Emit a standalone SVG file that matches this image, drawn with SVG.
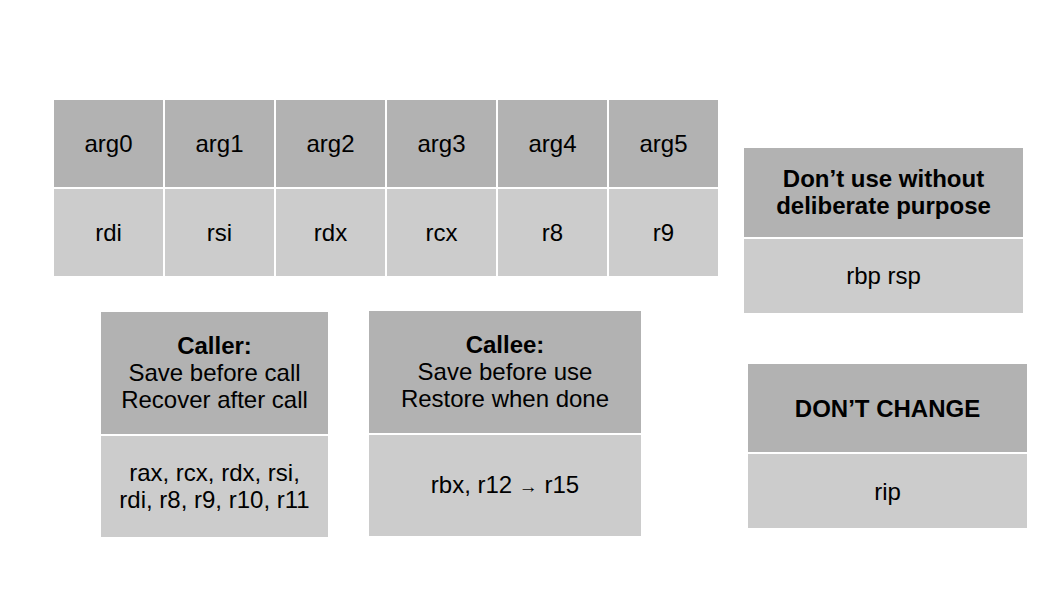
<svg xmlns="http://www.w3.org/2000/svg" width="1058" height="595" viewBox="0 0 1058 595">
<style>
.h{fill:#b2b2b2;stroke:#ffffff;stroke-width:2}
.b{fill:#cccccc;stroke:#ffffff;stroke-width:2}
text{font-family:"Liberation Sans",Arial,sans-serif;font-size:24px;fill:#000;text-anchor:middle}
.bd{font-weight:bold}
</style>
<rect width="1058" height="595" fill="#ffffff"/>
<g id="args">
<rect class="h" x="53" y="99" width="111" height="89"/>
<rect class="h" x="164" y="99" width="111" height="89"/>
<rect class="h" x="275" y="99" width="111" height="89"/>
<rect class="h" x="386" y="99" width="111" height="89"/>
<rect class="h" x="497" y="99" width="111" height="89"/>
<rect class="h" x="608" y="99" width="111" height="89"/>
<rect class="b" x="53" y="188" width="111" height="89"/>
<rect class="b" x="164" y="188" width="111" height="89"/>
<rect class="b" x="275" y="188" width="111" height="89"/>
<rect class="b" x="386" y="188" width="111" height="89"/>
<rect class="b" x="497" y="188" width="111" height="89"/>
<rect class="b" x="608" y="188" width="111" height="89"/>
<text x="108.5" y="152">arg0</text>
<text x="219.5" y="152">arg1</text>
<text x="330.5" y="152">arg2</text>
<text x="441.5" y="152">arg3</text>
<text x="552.5" y="152">arg4</text>
<text x="663.5" y="152">arg5</text>
<text x="108.5" y="241">rdi</text>
<text x="219.5" y="241">rsi</text>
<text x="330.5" y="241">rdx</text>
<text x="441.5" y="241">rcx</text>
<text x="552.5" y="241">r8</text>
<text x="663.5" y="241">r9</text>
</g>
<g id="dontuse">
<rect class="h" x="743" y="147" width="281" height="91"/>
<rect class="b" x="743" y="238" width="281" height="76"/>
<text class="bd" x="883.5" y="187">Don’t use without</text>
<text class="bd" x="883.5" y="214">deliberate purpose</text>
<text x="883.5" y="284">rbp rsp</text>
</g>
<g id="caller">
<rect class="h" x="100" y="311" width="229" height="124"/>
<rect class="b" x="100" y="435" width="229" height="103"/>
<text class="bd" x="214.5" y="354">Caller:</text>
<text x="214.5" y="381">Save before call</text>
<text x="214.5" y="408">Recover after call</text>
<text x="214.5" y="481">rax, rcx, rdx, rsi,</text>
<text x="214.5" y="508">rdi, r8, r9, r10, r11</text>
</g>
<g id="callee">
<rect class="h" x="368" y="310" width="274" height="124"/>
<rect class="b" x="368" y="434" width="274" height="103"/>
<text class="bd" x="505" y="353">Callee:</text>
<text x="505" y="380">Save before use</text>
<text x="505" y="407">Restore when done</text>
<text x="505" y="493">rbx, r12 <tspan font-size="19">→</tspan> r15</text>
</g>
<g id="dontchange">
<rect class="h" x="747" y="363" width="281" height="90"/>
<rect class="b" x="747" y="453" width="281" height="76"/>
<text class="bd" x="887.5" y="417">DON’T CHANGE</text>
<text x="887.5" y="500">rip</text>
</g>
<g id="connectors"></g>
</svg>
